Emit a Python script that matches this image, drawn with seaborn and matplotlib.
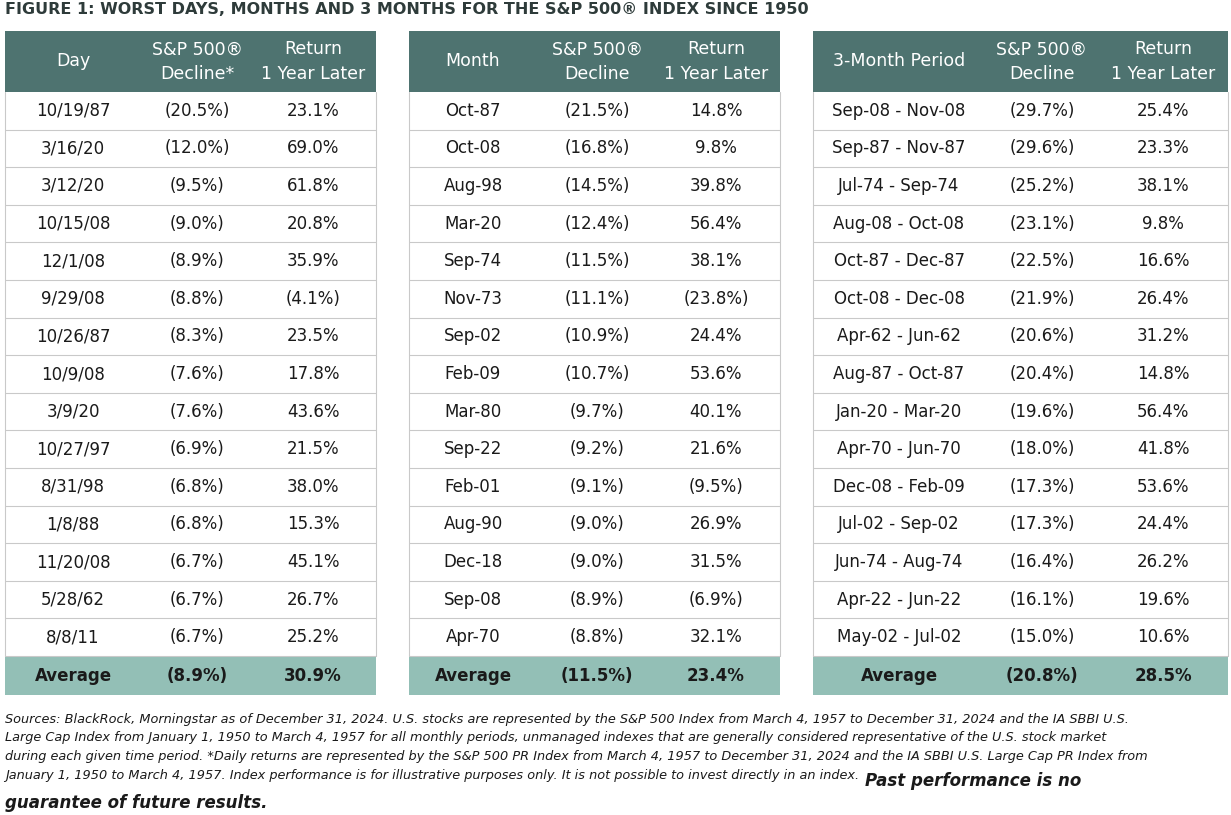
import seaborn as sns
import matplotlib.pyplot as plt
from matplotlib.patches import Rectangle

sns.set_theme(style="white")
plt.rcParams['font.family'] = ['DejaVu Sans']

day_dates = ["10/19/87", "3/16/20", "3/12/20", "10/15/08", "12/1/08", "9/29/08", "10/26/87", "10/9/08",
             "3/9/20", "10/27/97", "8/31/98", "1/8/88", "11/20/08", "5/28/62", "8/8/11"]
day_decline = [-20.5, -12.0, -9.5, -9.0, -8.9, -8.8, -8.3, -7.6, -7.6, -6.9, -6.8, -6.8, -6.7, -6.7, -6.7]
day_return = [23.1, 69.0, 61.8, 20.8, 35.9, -4.1, 23.5, 17.8, 43.6, 21.5, 38.0, 15.3, 45.1, 26.7, 25.2]
day_avg = (-8.9, 30.9)

month_names = ["Oct-87", "Oct-08", "Aug-98", "Mar-20", "Sep-74", "Nov-73", "Sep-02", "Feb-09", "Mar-80",
               "Sep-22", "Feb-01", "Aug-90", "Dec-18", "Sep-08", "Apr-70"]
month_decline = [-21.5, -16.8, -14.5, -12.4, -11.5, -11.1, -10.9, -10.7, -9.7, -9.2, -9.1, -9.0, -9.0, -8.9, -8.8]
month_return = [14.8, 9.8, 39.8, 56.4, 38.1, -23.8, 24.4, 53.6, 40.1, 21.6, -9.5, 26.9, 31.5, -6.9, 32.1]
month_avg = (-11.5, 23.4)

q_periods = ["Sep-08 - Nov-08", "Sep-87 - Nov-87", "Jul-74 - Sep-74", "Aug-08 - Oct-08", "Oct-87 - Dec-87",
             "Oct-08 - Dec-08", "Apr-62 - Jun-62", "Aug-87 - Oct-87", "Jan-20 - Mar-20", "Apr-70 - Jun-70",
             "Dec-08 - Feb-09", "Jul-02 - Sep-02", "Jun-74 - Aug-74", "Apr-22 - Jun-22", "May-02 - Jul-02"]
q_decline = [-29.7, -29.6, -25.2, -23.1, -22.5, -21.9, -20.6, -20.4, -19.6, -18.0, -17.3, -17.3, -16.4, -16.1, -15.0]
q_return = [25.4, 23.3, 38.1, 9.8, 16.6, 26.4, 31.2, 14.8, 56.4, 41.8, 53.6, 24.4, 26.2, 19.6, 10.6]
q_avg = (-20.8, 28.5)

HEAD = "#4e7370"
AVG = "#93bfb6"
LINE = "#c9c9c9"
TXT = "#1a1a1a"


def fmt(v):
    return f"({abs(v):.1f}%)" if v < 0 else f"{v:.1f}%"


fig = plt.figure(figsize=(12.31, 8.15), dpi=100)
ax = fig.add_axes([0, 0, 1, 1])
ax.set_xlim(0, 1231)
ax.set_ylim(815, 0)
ax.axis("off")

ax.text(5, 9, "FIGURE 1: WORST DAYS, MONTHS AND 3 MONTHS FOR THE S&P 500\u00ae INDEX SINCE 1950",
        fontsize=11.5, fontweight="bold", color="#2e3b3a", va="center", ha="left")

top, head_h, row_h = 31, 61, 37.6


def draw_table(x0, x1, centers, heads, labels, dec, ret, avg):
    ax.add_patch(Rectangle((x0, top), x1 - x0, head_h, color=HEAD, lw=0))
    for cx, h in zip(centers, heads):
        ax.text(cx, top + head_h / 2, h, color="white", fontsize=12.5, ha="center", va="center",
                linespacing=1.45)
    y = top + head_h
    for lab, d, r in zip(labels, dec, ret):
        for cx, s in zip(centers, [lab, fmt(d), fmt(r)]):
            ax.text(cx, y + row_h / 2, s, color=TXT, fontsize=12, ha="center", va="center")
        y += row_h
        ax.plot([x0, x1], [y, y], color=LINE, lw=0.8)
    ax.add_patch(Rectangle((x0, y), x1 - x0, 39, color=AVG, lw=0))
    for cx, s in zip(centers, ["Average", fmt(avg[0]), fmt(avg[1])]):
        ax.text(cx, y + 19.5, s, color=TXT, fontsize=12, fontweight="bold", ha="center", va="center")
    ax.plot([x0, x0], [top + head_h, y], color=LINE, lw=0.8)
    ax.plot([x1, x1], [top + head_h, y], color=LINE, lw=0.8)


draw_table(5, 376, [73, 197, 313], ["Day", "S&P 500\u00ae\nDecline*", "Return\n1 Year Later"],
           day_dates, day_decline, day_return, day_avg)
draw_table(409, 780, [473, 597, 716], ["Month", "S&P 500\u00ae\nDecline", "Return\n1 Year Later"],
           month_names, month_decline, month_return, month_avg)
draw_table(813, 1228, [899, 1042, 1163], ["3-Month Period", "S&P 500\u00ae\nDecline", "Return\n1 Year Later"],
           q_periods, q_decline, q_return, q_avg)

foot = ("Sources: BlackRock, Morningstar as of December 31, 2024. U.S. stocks are represented by the S&P 500 Index from March 4, 1957 to December 31, 2024 and the IA SBBI U.S.\n"
        "Large Cap Index from January 1, 1950 to March 4, 1957 for all monthly periods, unmanaged indexes that are generally considered representative of the U.S. stock market\n"
        "during each given time period. *Daily returns are represented by the S&P 500 PR Index from March 4, 1957 to December 31, 2024 and the IA SBBI U.S. Large Cap PR Index from")
ax.text(5, 713, foot, fontsize=9.3, style="italic", color=TXT, ha="left", va="top", linespacing=1.55)
last = ax.text(5, 775, "January 1, 1950 to March 4, 1957. Index performance is for illustrative purposes only. "
               "It is not possible to invest directly in an index.",
               fontsize=9.3, style="italic", color=TXT, ha="left", va="center")
fig.canvas.draw()
bb = last.get_window_extent().transformed(ax.transData.inverted())
ax.text(max(bb.x0, bb.x1) + 6, 781, "Past performance is no", fontsize=12, style="italic", fontweight="bold",
        color=TXT, ha="left", va="center")
ax.text(5, 803, "guarantee of future results.", fontsize=12, style="italic", fontweight="bold",
        color=TXT, ha="left", va="center")

fig.savefig("out.png", dpi=100)
